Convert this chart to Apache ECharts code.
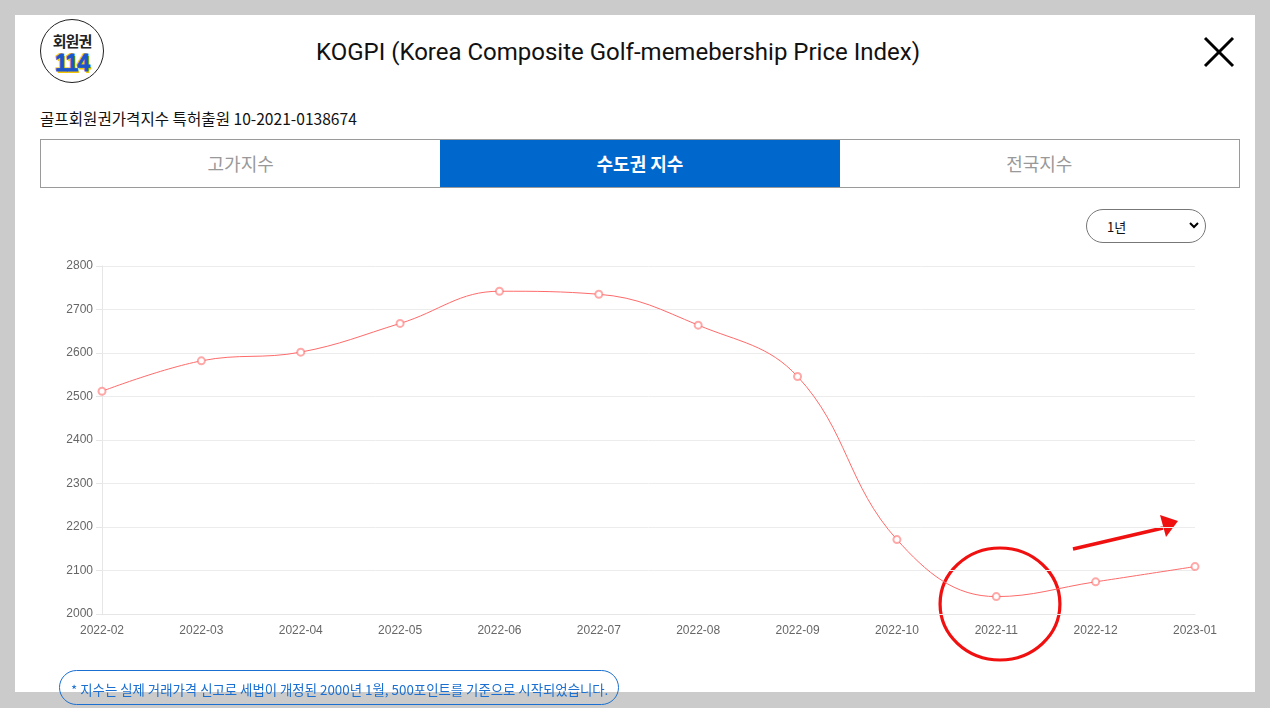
<!DOCTYPE html>
<html>
<head>
<meta charset="utf-8">
<script src="https://cdn.jsdelivr.net/npm/echarts@6/dist/echarts.min.js"></script>
<style>
  html, body { margin: 0; padding: 0; }
  body { width: 1270px; height: 708px; background: #cbcbcb; position: relative; overflow: hidden;
         font-family: Roboto, "Noto Sans CJK KR", sans-serif; }
  #panel { position: absolute; left: 15px; top: 15px; width: 1240px; height: 677px; background: #fff; }
  .abs { position: absolute; }
  #logo { left: 40px; top: 19px; width: 62px; height: 62px; border: 1.5px solid #222; border-radius: 50%; background: #fff; }
  #logo .t1 { position: absolute; left: 0; width: 62px; top: 10px; text-align: center; font: bold 15px "Noto Sans CJK KR"; color: #222; letter-spacing: -1px; }
  #logo .t2 { position: absolute; left: 0; width: 62px; top: 30px; text-align: center; font: 900 23px "Liberation Sans", Arial; color: #1b55c9;
              -webkit-text-stroke: 0.8px #1b55c9; letter-spacing: -1px; text-shadow: 1.5px 1.5px 0 #f2c500, -1px -1px 0 #f2c500; }
  #title { left: 0; width: 1236px; top: 38px; text-align: center; font-size: 24px; color: #111; }
  #sub { left: 40px; top: 107px; font-size: 15.6px; color: #111; font-family: "Noto Sans CJK KR"; }
  #tabs { left: 40px; top: 139px; width: 1198px; height: 47px; border: 1px solid #9a9a9a; display: flex; }
  #tabs div { flex: 1; text-align: center; line-height: 47px; font-size: 18px; color: #999; font-family: "Noto Sans CJK KR"; }
  #tabs div.on { background: #0068cc; color: #fff; font-weight: bold; }
  #sel { left: 1086px; top: 209px; width: 118px; height: 32px; border: 1px solid #777; border-radius: 17px; background: #fff; }
  #sel span { position: absolute; left: 20px; top: 7px; font-size: 13px; color: #111; font-family: "Noto Sans CJK KR"; }
  #note { left: 59px; top: 670px; width: 558px; height: 33px; border: 1.5px solid #1a6fd0; border-radius: 18px; z-index: 3; }
  #note span { position: absolute; left: 11px; top: 8px; font-size: 13.4px; color: #1a6fd0; font-family: "Noto Sans CJK KR"; white-space: nowrap; }
  #main { position: absolute; left: 0; top: 0; width: 1270px; height: 708px; z-index: 2; }
</style>
</head>
<body>
<div id="panel"></div>
<div id="logo" class="abs"><div class="t1">회원권</div><div class="t2">114</div></div>
<div id="title" class="abs">KOGPI (Korea Composite Golf-memebership Price Index)</div>
<svg class="abs" style="left:1200px;top:34px" width="40" height="40">
  <line x1="5" y1="4" x2="33" y2="32" stroke="#000" stroke-width="3"/>
  <line x1="33" y1="4" x2="5" y2="32" stroke="#000" stroke-width="3"/>
</svg>
<div id="sub" class="abs">골프회원권가격지수 특허출원 10-2021-0138674</div>
<div id="tabs" class="abs"><div>고가지수</div><div class="on">수도권 지수</div><div>전국지수</div></div>
<div id="sel" class="abs"><span>1년</span>
  <svg style="position:absolute;left:102px;top:12px" width="10" height="8"><polyline points="1,1 5,5 9,1" fill="none" stroke="#000" stroke-width="2"/></svg>
</div>
<div id="main"></div>
<div id="note" class="abs"><span>* 지수는 실제 거래가격 신고로 세법이 개정된 2000년 1월, 500포인트를 기준으로 시작되었습니다.</span></div>
<script>
// 수도권 지수, 최근 1년
var months = ['2022-02','2022-03','2022-04','2022-05','2022-06','2022-07','2022-08','2022-09','2022-10','2022-11','2022-12','2023-01'];
var indexValues = [2512, 2582, 2602, 2668, 2742, 2735, 2664, 2546, 2171, 2040, 2074, 2109];
var yTicks = [2000, 2100, 2200, 2300, 2400, 2500, 2600, 2700, 2800];

var myChart = echarts.init(document.getElementById('main'));
var option = {
    animation: false,
    grid: { left: 102, right: 75, top: 266, bottom: 94 },
    xAxis: {
        type: 'category',
        data: months,
        boundaryGap: false,
        axisLine: { lineStyle: { color: '#e6e6e6' } },
        axisTick: { show: false },
        axisLabel: { color: '#666', fontSize: 12, fontFamily: 'Liberation Sans', margin: 11 },
        splitLine: { show: false }
    },
    yAxis: {
        type: 'value',
        min: yTicks[0],
        max: yTicks[yTicks.length - 1],
        interval: 100,
        axisLine: { show: true, lineStyle: { color: '#e6e6e6' } },
        axisTick: { show: true, length: 6, lineStyle: { color: '#e6e6e6' } },
        axisLabel: { color: '#666', fontSize: 12, fontFamily: 'Liberation Sans', margin: 9,
                     formatter: function (v) { return String(v); } },
        splitLine: { lineStyle: { color: '#ececec' } }
    },
    series: [{
        type: 'line',
        data: indexValues,
        smooth: 0.4,
        smoothConstraint: false,
        symbol: 'emptyCircle',
        symbolSize: 7,
        lineStyle: { color: '#ff6a6a', width: 1 },
        itemStyle: { color: 'rgba(255,110,110,0.6)', borderWidth: 1.5 }
    }],
    graphic: [
        { type: 'circle', shape: { cx: 0, cy: 0, r: 56 }, x: 1000, y: 604, scaleX: 1.07,
          style: { fill: 'none', stroke: '#f01010', lineWidth: 3 } },
        { type: 'line', shape: { x1: 1073, y1: 549, x2: 1163, y2: 528 },
          style: { stroke: '#f01010', lineWidth: 3.5 } },
        { type: 'polygon', shape: { points: [[1178, 521], [1160, 515], [1166, 537]] },
          style: { fill: '#f01010' } }
    ]
};
myChart.setOption(option);
</script>
</body>
</html>
